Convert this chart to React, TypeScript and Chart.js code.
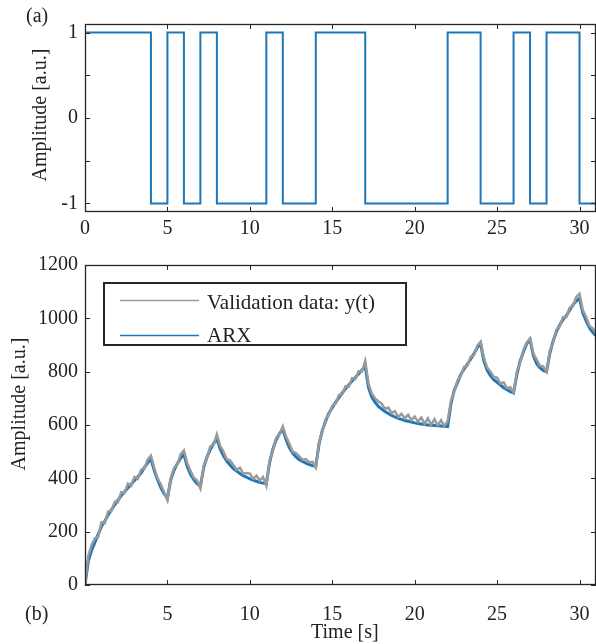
import React, { useEffect, useRef } from 'react';
import { Chart, registerables } from 'chart.js';

Chart.register(...registerables);

// ---------- data ----------
// (a) input: switching times [s] and the level held from each time on
const SWITCH_TIMES = [0, 4, 5, 6, 7, 8, 11, 12, 14, 17, 22, 24, 26, 27, 28, 30, 31];
const INPUT_LEVELS = [1, -1, 1, -1, 1, -1, 1, -1, 1, -1, 1, -1, 1, -1, 1, -1, -1];

// (b) output sampled every 0.2 s from 0 to 31 s
const SAMPLE_STEP = 0.2;
const ARX_OUTPUT = [
  0, 90, 130, 160, 190,
  220, 240, 262, 282, 300,
  318, 335, 350, 364, 378,
  392, 405, 420, 440, 458,
  472, 430, 395, 365, 342,
  325, 395, 430, 455, 475,
  490, 445, 415, 395, 380,
  370, 440, 480, 508, 530,
  548, 510, 485, 465, 450,
  436, 427, 418, 410, 404,
  398, 393, 389, 385, 382,
  380, 460, 510, 545, 568,
  585, 545, 515, 495, 480,
  470, 463, 457, 452, 448,
  445, 530, 580, 615, 645,
  665, 685, 703, 720, 736,
  750, 765, 778, 792, 806,
  820, 740, 705, 685, 670,
  660, 651, 643, 636, 630,
  625, 621, 617, 614, 611,
  608, 606, 604, 602, 600,
  599, 598, 597, 596, 595,
  594, 680, 730, 760, 790,
  810, 828, 848, 868, 890,
  906, 840, 805, 785, 770,
  760, 750, 740, 732, 725,
  720, 790, 840, 875, 905,
  920, 860, 830, 815, 805,
  800, 870, 915, 950, 975,
  995, 1010, 1030, 1050, 1065,
  1075, 1020, 990, 965, 948,
  935,
];
const VALIDATION_OUTPUT = [
  5, 110, 150, 175, 180,
  235, 232, 275, 278, 312,
  310, 348, 345, 380, 372,
  405, 398, 432, 436, 470,
  485, 440, 400, 378, 348,
  318, 402, 438, 452, 490,
  505, 458, 428, 402, 392,
  362, 448, 476, 520, 526,
  565, 522, 500, 472, 468,
  450, 432, 440, 418, 420,
  418, 398, 410, 392, 405,
  372, 468, 505, 552, 565,
  595, 556, 530, 500, 495,
  482, 470, 472, 460, 462,
  440, 535, 575, 622, 640,
  672, 680, 712, 715, 745,
  744, 775, 772, 802, 800,
  840, 755, 718, 700, 688,
  680, 660, 665, 645, 652,
  630, 642, 625, 638, 618,
  632, 612, 628, 605, 625,
  600, 622, 598, 618, 596,
  615, 690, 725, 768, 785,
  818, 822, 856, 862, 898,
  912, 852, 815, 800, 780,
  778, 755, 760, 738, 742,
  722, 798, 835, 882, 910,
  925, 868, 845, 822, 820,
  800, 878, 910, 958, 970,
  1005, 1004, 1040, 1045, 1080,
  1092, 1030, 1005, 972, 962,
  945,
];

// ticks
const X_TICKS = [0, 5, 10, 15, 20, 25, 30];
const X_LABELS_TOP = ['0', '5', '10', '15', '20', '25', '30'];
const X_LABELS_BOTTOM = ['', '5', '10', '15', '20', '25', '30'];
const TOP_Y_TICKS = [-1, -0.5, 0, 0.5, 1];
const TOP_Y_LABELS = ['-1', '', '0', '', '1'];
const BOTTOM_Y_TICKS = [0, 200, 400, 600, 800, 1000, 1200];
const BOTTOM_Y_LABELS = ['0', '200', '400', '600', '800', '1000', '1200'];

const LABEL_VALIDATION = 'Validation data: y(t)';
const LABEL_ARX = 'ARX';

// ---------- styles ----------
const FONT = '"Liberation Serif", "Times New Roman", serif';
const TEXT = '#222222';
const AXIS = '#262626';
const BLUE = '#1f77b8';
const GRAY = '#9a9a9a';

const boxPlugin = {
  id: 'matlabBox',
  afterDatasetsDraw(chart: any) {
    const { ctx, chartArea, scales } = chart;
    const { left, right, top, bottom } = chartArea;
    const tl = 5;
    ctx.save();
    ctx.strokeStyle = AXIS;
    ctx.lineWidth = 1;
    ctx.beginPath();
    scales.x.ticks.forEach((t: any) => {
      const px = Math.round(scales.x.getPixelForValue(t.value)) + 0.5;
      ctx.moveTo(px, bottom);
      ctx.lineTo(px, bottom - tl);
      ctx.moveTo(px, top);
      ctx.lineTo(px, top + tl);
    });
    scales.y.ticks.forEach((t: any) => {
      const py = Math.round(scales.y.getPixelForValue(t.value)) + 0.5;
      ctx.moveTo(left, py);
      ctx.lineTo(left + tl, py);
      ctx.moveTo(right, py);
      ctx.lineTo(right - tl, py);
    });
    ctx.stroke();
    ctx.lineWidth = 1.3;
    ctx.strokeRect(left + 0.5, top + 0.5, right - left - 1, bottom - top - 1);
    ctx.restore();
  },
};

const legendPlugin = {
  id: 'boxLegend',
  afterDraw(chart: any) {
    const { ctx, chartArea } = chart;
    const bx = chartArea.left + 19;
    const by = chartArea.top + 18;
    const bw = 302;
    const bh = 62;
    ctx.save();
    ctx.fillStyle = '#ffffff';
    ctx.fillRect(bx, by, bw, bh);
    ctx.strokeStyle = AXIS;
    ctx.lineWidth = 2;
    ctx.strokeRect(bx, by, bw, bh);
    const rows = [by + 17, by + 52];
    chart.data.datasets.forEach((ds: any, i: number) => {
      const y = rows[i];
      ctx.strokeStyle = ds.borderColor;
      ctx.lineWidth = 1.5;
      ctx.beginPath();
      ctx.moveTo(bx + 16, y + 0.5);
      ctx.lineTo(bx + 95, y + 0.5);
      ctx.stroke();
      ctx.fillStyle = TEXT;
      ctx.font = `21px ${FONT}`;
      ctx.textBaseline = 'middle';
      ctx.textAlign = 'left';
      ctx.fillText(ds.label, bx + 103, y + 3 - i * 2);
    });
    ctx.restore();
  },
};

function tickSetter(values: number[]) {
  return (scale: any) => {
    scale.ticks = values.map((v) => ({ value: v }));
  };
}
function labeler(values: number[], labels: string[]) {
  return (v: any) => {
    const i = values.findIndex((t) => Math.abs(t - Number(v)) < 1e-9);
    return i >= 0 ? labels[i] : '';
  };
}

function baseScale(extra: any) {
  return {
    type: 'linear',
    grid: { display: false, drawTicks: false },
    border: { display: false },
    ...extra,
  };
}

function makeTicks(values: number[], labels: string[], padding: number) {
  return {
    autoSkip: false,
    maxRotation: 0,
    padding,
    color: TEXT,
    font: { family: FONT, size: 20 },
    callback: labeler(values, labels),
  };
}

function fixHeight(h: number) {
  return (s: any) => {
    s.height = h;
    s.paddingLeft = 0;
    s.paddingRight = 0;
  };
}
function fixWidth(w: number) {
  return (s: any) => {
    s.width = w;
    s.paddingTop = 0;
    s.paddingBottom = 0;
  };
}

const App = () => {
  const topRef = useRef<HTMLCanvasElement | null>(null);
  const botRef = useRef<HTMLCanvasElement | null>(null);

  useEffect(() => {
    const topChart = new Chart(topRef.current as HTMLCanvasElement, {
      type: 'line',
      data: {
        datasets: [
          {
            label: 'Input',
            data: SWITCH_TIMES.map((t, i) => ({ x: t, y: INPUT_LEVELS[i] })),
            stepped: true,
            borderColor: BLUE,
            borderWidth: 2,
            pointRadius: 0,
            fill: false,
          },
        ],
      },
      options: {
        animation: false,
        responsive: false,
        maintainAspectRatio: false,
        layout: { padding: { top: 24, right: 0, bottom: 0, left: 0 } },
        plugins: { legend: { display: false }, tooltip: { enabled: false } },
        scales: {
          x: baseScale({
            min: 0,
            max: 31,
            afterBuildTicks: tickSetter(X_TICKS),
            afterFit: fixHeight(28),
            ticks: makeTicks(X_TICKS, X_LABELS_TOP, 5),
          }),
          y: baseScale({
            min: -1.1,
            max: 1.1,
            afterBuildTicks: tickSetter(TOP_Y_TICKS),
            afterFit: fixWidth(85),
            ticks: makeTicks(TOP_Y_TICKS, TOP_Y_LABELS, 7),
          }),
        },
      } as any,
      plugins: [boxPlugin],
    });

    const times = ARX_OUTPUT.map((_, i) => +(i * SAMPLE_STEP).toFixed(2));
    const botChart = new Chart(botRef.current as HTMLCanvasElement, {
      type: 'line',
      data: {
        datasets: [
          {
            label: LABEL_VALIDATION,
            data: VALIDATION_OUTPUT.map((v, i) => ({ x: times[i], y: v })),
            borderColor: GRAY,
            borderWidth: 2.5,
            pointRadius: 0,
            fill: false,
          },
          {
            label: LABEL_ARX,
            data: ARX_OUTPUT.map((v, i) => ({ x: times[i], y: v })),
            borderColor: BLUE,
            borderWidth: 3,
            pointRadius: 0,
            fill: false,
          },
        ],
      },
      options: {
        animation: false,
        responsive: false,
        maintainAspectRatio: false,
        layout: { padding: { top: 25, right: 0, bottom: 0, left: 0 } },
        plugins: { legend: { display: false }, tooltip: { enabled: false } },
        scales: {
          x: baseScale({
            min: 0,
            max: 31,
            afterBuildTicks: tickSetter(X_TICKS),
            afterFit: fixHeight(59),
            ticks: makeTicks(X_TICKS, X_LABELS_BOTTOM, 18),
          }),
          y: baseScale({
            min: 0,
            max: 1200,
            afterBuildTicks: tickSetter(BOTTOM_Y_TICKS),
            afterFit: fixWidth(85),
            ticks: makeTicks(BOTTOM_Y_TICKS, BOTTOM_Y_LABELS, 7),
          }),
        },
      } as any,
      plugins: [boxPlugin, legendPlugin],
    });

    return () => {
      topChart.destroy();
      botChart.destroy();
    };
  }, []);

  const textStyle: React.CSSProperties = {
    position: 'absolute',
    fontFamily: FONT,
    fontSize: 20,
    lineHeight: '20px',
    color: TEXT,
    whiteSpace: 'nowrap',
  };
  const rotated = (cx: number, cy: number): React.CSSProperties => ({
    ...textStyle,
    left: cx,
    top: cy,
    transform: 'translate(-50%, -50%) rotate(-90deg)',
  });

  return (
    <div style={{ position: 'absolute', left: 0, top: 0, width: 596, height: 644, background: '#ffffff', overflow: 'hidden' }}>
      <canvas ref={topRef} width={596} height={240} style={{ position: 'absolute', left: 0, top: 0, width: 596, height: 240 }} />
      <canvas ref={botRef} width={596} height={404} style={{ position: 'absolute', left: 0, top: 240, width: 596, height: 404 }} />
      <div style={{ ...textStyle, left: 26, top: 5 }}>(a)</div>
      <div style={{ ...textStyle, left: 25, top: 603 }}>(b)</div>
      <div style={rotated(39, 115)}>Amplitude [a.u.]</div>
      <div style={rotated(18, 404)}>Amplitude [a.u.]</div>
      <div style={{ ...textStyle, left: 311, top: 621 }}>Time [s]</div>
    </div>
  );
};

export default App;
